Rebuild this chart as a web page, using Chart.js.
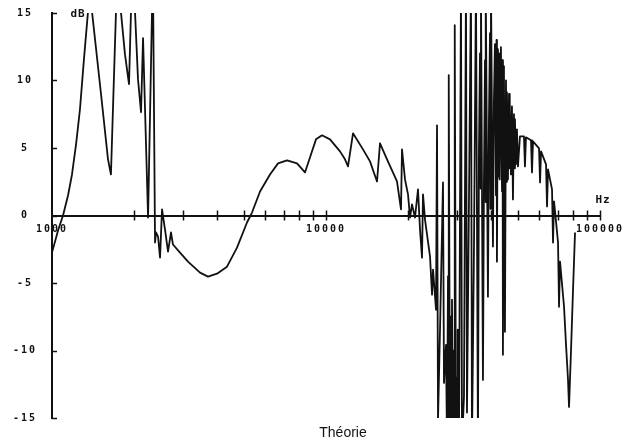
<!DOCTYPE html>
<html>
<head>
<meta charset="utf-8">
<script src="https://cdn.jsdelivr.net/npm/chart.js@4/dist/chart.umd.min.js"></script>
<style>
  html, body { margin: 0; padding: 0; background: #fff; }
  canvas { display: block; }
</style>
</head>
<body>
<canvas id="c" width="642" height="447"></canvas>
<script>
// Frequency response: sampled frequencies (Hz) and level (dB)
const freqHz = [
  1000,1052,1097,1144,1183,1224,1265,1308,1353,1376,
  1400,1510,1601,1641,1669,1712,1741,1785,1846,1910,
  1942,1975,2009,2060,2113,2149,2242,2317,2337,2377,
  2397,2438,2479,2521,2585,2651,2718,2764,2932,3136,
  3469,3710,4002,4352,4734,5148,5370,5744,6246,6681,
  7208,7838,8381,8745,9194,9670,10342,11249,11730,12031,
  12548,13646,14473,15353,15745,16699,18159,18781,18939,19424,
  19921,20259,20602,21126,21667,22034,22407,22596,22980,23970,
  24377,24582,25207,25420,25634,26068,26730,26955,27412,
  27643,27881,27996,28111,28348,28589,28714,28828,29071,29322,
  29444,29563,29812,30068,30200,30317,30572,31090,31353,31884,
  32423,32697,33251,33813,34099,34676,35263,35859,36162,36476,
  36695,36774,37396,37712,38045,38203,38350,38999,39328,39674,
  39848,39994,40670,41014,41361,41725,41908,42061,42416,42796,
  42975,43135,43500,43884,44076,44236,44610,44988,45384,45583,
  45749,46136,46548,46742,46917,47313,47713,48117,48540,48753,
  48932,49345,49762,50183,51032,
  52778,53224,53674,56000,56468,56946,59911,60418,60929,63534,
  64071,64613,66819,67384,67954,69106,70277,70871,71471,73915,
  75166,76440,77086,78392,79720,81071
];
const levelDb = [
  -2.75,-1.11,0,1.48,3.04,5.27,7.87,11.58,15.07,17.1,
  15.07,8.98,4.16,3.04,7.87,15.07,17.1,15.07,11.95,9.73,
  15.07,17.1,15.07,10.1,7.65,13.14,-0.15,15.07,17.1,-2.0,
  -1.26,-1.56,-3.12,0.45,-1.04,-2.67,-1.26,-2.15,-2.75,-3.42,
  -4.23,-4.53,-4.31,-3.79,-2.38,-0.52,0.22,1.78,3.04,3.86,
  4.08,3.86,3.19,4.31,5.64,5.94,5.64,4.75,4.16,3.64,
  6.09,4.9,4.01,2.52,5.35,4.16,2.52,0.45,4.9,2.67,
  1.56,-0.15,0.82,-0.15,1.93,-1.04,-3.12,1.56,-0.3,-3.04,
  -5.86,-4.01,-6.98,6.68,-15.1,-8.46,2.45,-12.4,-9.58,
  -17,-4.5,-17,10.39,-17,-7.5,-17,-6.24,-17,-10,
  -17,14.1,-17,-12,-17,-8.46,-17,17.1,-17,-13.4,
  17.1,-14.6,1.19,17.1,-17,-2.52,17.1,-17,4.9,12.0,
  2.0,17.1,-12.18,2.67,11.5,1.0,17.1,-6.01,7.13,13.5,
  0.5,17.1,-2.3,8.61,12.7,1.5,13.0,-3.42,12.32,3.0,
  12.0,2.67,12.47,1.8,11.5,-10.32,11.06,-8.61,10.0,2.5,
  9.13,2.67,9.0,3.5,8.61,3.04,8.09,1.19,7.5,3.5,
  7.13,3.79,6.38,3.64,5.86,
  5.86,3.64,5.79,5.57,3.19,5.49,4.97,2.45,4.75,3.79,
  0.67,3.42,1.93,-2.0,1.04,-0.45,-2.0,-6.76,-3.42,-6.76,
  -9.58,-12.18,-14.18,-9.95,-5.49,-1.26
];

// Axis ticks
const yTicks = [-15, -10, -5, 0, 5, 10, 15];
const xTicks = [
  1000,2000,3000,4000,5000,6000,7000,8000,9000,
  10000,20000,30000,40000,50000,60000,70000,80000,90000,
  100000
];
const xLabelled = [1000, 10000, 100000];

const titleText = 'Théorie';
const yUnit = 'dB';
const xUnit = 'Hz';

const ink = '#111';
const tickFont = { family: 'DejaVu Sans Mono', size: 10, weight: 'bold' };

const points = freqHz.map((f, i) => ({ x: f, y: levelDb[i] }));

// Plotter-style decorations: spaced tick lettering, tick marks, unit labels, title
const plotterPlugin = {
  id: 'plotter',
  beforeLayout(chart) { chart.ctx.letterSpacing = '2px'; },
  beforeDraw(chart) {
    const ctx = chart.ctx;
    ctx.letterSpacing = '2px';
    ctx.save();
    ctx.fillStyle = '#fff';
    ctx.fillRect(0, 0, chart.width, chart.height);
    ctx.restore();
  },
  afterDraw(chart) {
    const { ctx, chartArea } = chart;
    const xs = chart.scales.x, ys = chart.scales.y;
    const y0 = ys.getPixelForValue(0);
    ctx.save();
    ctx.strokeStyle = ink;
    ctx.lineWidth = 1.5;
    ctx.beginPath();
    xs.ticks.forEach(t => {
      if (t.value === xs.min) return;
      const px = Math.round(xs.getPixelForValue(t.value)) + 0.5;
      ctx.moveTo(px, y0 - 5);
      ctx.lineTo(px, y0 + 5);
    });
    ys.ticks.forEach(t => {
      const py = Math.round(ys.getPixelForValue(t.value)) + 0.5;
      ctx.moveTo(chartArea.left, py);
      ctx.lineTo(chartArea.left + 5, py);
    });
    ctx.stroke();

    ctx.fillStyle = ink;
    ctx.textAlign = 'center';
    ctx.textBaseline = 'middle';
    ctx.letterSpacing = '1px';
    ctx.font = 'bold 11px "DejaVu Sans Mono"';
    ctx.fillText(yUnit, chartArea.left + 26, chartArea.top + 1);
    ctx.fillText(xUnit, chartArea.right + 3, y0 - 15);

    ctx.letterSpacing = '0px';
    ctx.font = '14px "Liberation Sans", Arial, sans-serif';
    ctx.fillText(titleText, 343, 433);
    ctx.restore();
  }
};

new Chart(document.getElementById('c'), {
  type: 'scatter',
  data: {
    datasets: [{
      data: points,
      showLine: true,
      borderColor: ink,
      borderWidth: 1.8,
      borderJoinStyle: 'round',
      pointRadius: 0,
      tension: 0
    }]
  },
  options: {
    responsive: false,
    animation: false,
    layout: { padding: { top: 13, right: 42, bottom: 29, left: 0 } },
    plugins: {
      legend: { display: false },
      tooltip: { enabled: false },
      title: { display: false }
    },
    scales: {
      x: {
        type: 'logarithmic',
        min: 1000,
        max: 100000,
        position: { y: 0 },
        afterBuildTicks: s => { s.ticks = xTicks.map(v => ({ value: v })); },
        grid: { display: false, drawTicks: false },
        border: { display: true, color: ink, width: 2 },
        ticks: {
          autoSkip: false,
          maxRotation: 0,
          minRotation: 0,
          padding: 8,
          color: ink,
          font: tickFont,
          callback: v => (xLabelled.includes(v) ? String(v) : '')
        }
      },
      y: {
        min: -15,
        max: 15,
        position: 'left',
        afterBuildTicks: s => { s.ticks = yTicks.map(v => ({ value: v })); },
        afterFit: s => { s.width = 52; s.paddingTop = 0; s.paddingBottom = 0; },
        grid: { display: false, drawTicks: false },
        border: { display: true, color: ink, width: 2 },
        ticks: {
          crossAlign: 'center',
          padding: 15,
          color: ink,
          font: tickFont,
          callback: v => String(v)
        }
      }
    }
  },
  plugins: [plotterPlugin]
});
</script>
</body>
</html>
